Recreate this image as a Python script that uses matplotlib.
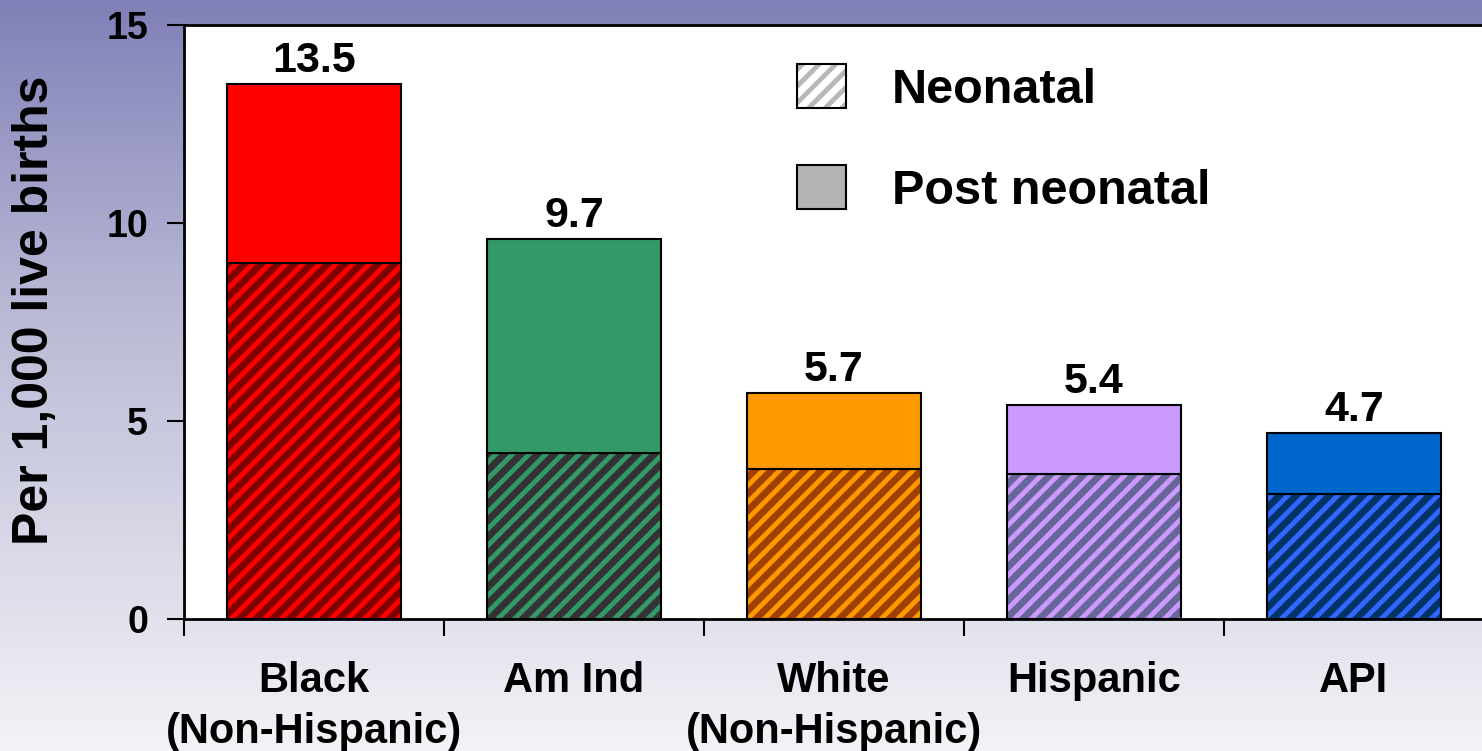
import matplotlib
matplotlib.use('Agg')
import matplotlib.pyplot as plt
import numpy as np
from matplotlib.patches import Patch
from matplotlib.legend_handler import HandlerTuple

plt.rcParams['font.family'] = ['Liberation Sans', 'DejaVu Sans']
plt.rcParams['font.weight'] = 'bold'
plt.rcParams['hatch.linewidth'] = 3.5

# data
groups = ['Black\n(Non-Hispanic)', 'Am Ind', 'White\n(Non-Hispanic)', 'Hispanic', 'API']
neonatal = [9.0, 4.2, 3.8, 3.65, 3.15]
total = [13.5, 9.6, 5.7, 5.4, 4.7]
total_labels = ['13.5', '9.7', '5.7', '5.4', '4.7']

post_colors = ['#FF0000', '#339966', '#FF9900', '#CC99FF', '#0066CC']
neo_dark = ['#800000', '#333333', '#A04000', '#666699', '#003366']
neo_stripe = ['#FF0000', '#339966', '#FF9900', '#CC99FF', '#3366FF']

fig = plt.figure(figsize=(14.82, 7.51), dpi=100)

# gradient background
bg = fig.add_axes([0, 0, 1, 1], zorder=-5)
t = np.linspace(0, 1, 256)
stops_t = [0.0, 0.4, 1.0]
stops_c = np.array([[128, 128, 184], [184, 184, 213], [243, 243, 247]]) / 255
grad = np.stack([np.interp(t, stops_t, stops_c[:, k]) for k in range(3)], axis=-1)
bg.imshow(grad[:, None, :], aspect='auto', extent=[0, 1, 0, 1])
bg.axis('off')

ax = fig.add_axes([184 / 1482, 132 / 751, 1300 / 1482, 594 / 751])
ax.set_facecolor('white')

x = np.arange(len(groups)) + 0.5
w = 0.673
post = [tt - n for tt, n in zip(total, neonatal)]

for i in range(len(groups)):
    # neonatal: dark fill with coloured stripes
    ax.bar(x[i], neonatal[i], w, color=neo_dark[i], edgecolor=neo_stripe[i],
           hatch='//', linewidth=0, zorder=2)
    ax.bar(x[i], neonatal[i], w, facecolor='none', edgecolor='black',
           linewidth=1.5, zorder=3)
    # post neonatal: solid
    ax.bar(x[i], post[i], w, bottom=neonatal[i], color=post_colors[i],
           edgecolor='black', linewidth=1.5, zorder=3)
    ax.text(x[i], total[i] + 0.08, total_labels[i], ha='center', va='bottom',
            fontsize=31, fontweight='bold', zorder=1)

ax.set_xlim(0, 5)
ax.set_ylim(0, 15)
ax.set_yticks([0, 5, 10, 15])
ax.tick_params(axis='y', labelsize=27, length=12, width=1.5, pad=14)
ax.set_xticks(np.arange(0, 6))
ax.set_xticklabels([])
ax.set_xticks(x, minor=True)
ax.set_xticklabels(groups, minor=True, fontsize=30, linespacing=1.38)
ax.tick_params(axis='x', which='major', length=12, width=1.5)
ax.tick_params(axis='x', which='minor', length=0, pad=30)

for s in ['left', 'bottom', 'top']:
    ax.spines[s].set_linewidth(2)
ax.spines['right'].set_visible(False)

ax.set_ylabel('Per 1,000 live births', fontsize=36, fontweight='bold')
ax.yaxis.set_label_coords(-0.097, 0.52)

h_neo = (Patch(facecolor='white', edgecolor='#B8B8B8', hatch='//', linewidth=0),
         Patch(facecolor='none', edgecolor='black', linewidth=1.5))
h_post = Patch(facecolor='#B3B3B3', edgecolor='black', linewidth=1.5)
leg = fig.legend([h_neo, h_post], ['Neonatal', 'Post neonatal'],
                 handler_map={tuple: HandlerTuple(ndivide=1, pad=0)},
                 loc='upper left', bbox_to_anchor=(773 / 1482, 1 - 40 / 751),
                 frameon=False, fontsize=35, handlelength=1.0, handleheight=1.0,
                 handletextpad=0.95, labelspacing=1.08, borderpad=0)

fig.savefig('out.png', dpi=100)
